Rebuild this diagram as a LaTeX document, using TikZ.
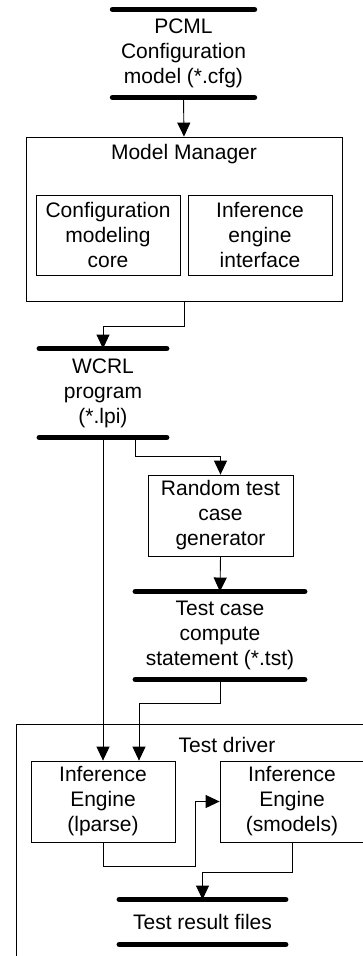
\documentclass[tikz,border=0pt]{standalone}
\usepackage{fontspec}
\setmainfont{Liberation Sans}
\usetikzlibrary{arrows.meta,positioning}

\begin{document}
\begin{tikzpicture}[x=1pt,y=-1pt,
    font=\fontsize{21}{25}\selectfont,
    every node/.style={align=center},
    box/.style={draw,line width=0.8pt,inner sep=0pt},
    store/.style args={#1/#2}{inner sep=0pt,minimum width=#1pt,minimum height=#2pt},
    bar/.style={line width=5.5pt,line cap=round},
    >={Triangle[width=13pt,length=14pt]},
    every path/.style={line width=0.9pt}]
    \useasboundingbox (0,0) rectangle (363,956);

    \path 
    node[store=141/87] (pcml) at (183.5,53.5) {PCML\\Configuration\\model (*.cfg)}
    node[box,minimum width=316pt,minimum height=164pt] (mm) at (184,219) {}
    node[box,minimum width=144pt,minimum height=80pt] (core) at (108,235) {Configuration\\modeling\\core}
    node[box,minimum width=144pt,minimum height=80pt] (ie) at (260,235) {Inference\\engine\\interface}
    node[store=126.5/88] (wcrl) at (103,393) {WCRL\\program\\(*.lpi)}
    node[box,minimum width=145pt,minimum height=81pt] (gen) at (220.5,515.5) {Random test\\case\\generator}
    node[store=168.5/87] (tst) at (220,635.5) {Test case\\compute\\statement (*.tst)};
    \node[below=4pt of mm.north] (mmt) {Model Manager};

    % test driver
    \node[box,anchor=north west,minimum width=380pt,minimum height=280pt] (drv) at (16,724) {};
    \node[anchor=base] (drvt) at (227,752) {Test driver};
    \path 
    node[box,minimum width=144pt,minimum height=81pt] (lp) at (103,801.5) {Inference\\Engine\\(lparse)}
    node[box,minimum width=144pt,minimum height=81pt] (sm) at (292,801.5) {Inference\\Engine\\(smodels)}
    node[store=165.5/44] (res) at (202.5,922) {Test result files};

    % file bars
    \foreach \n in {pcml,wcrl,tst,res}
        \draw[bar] (\n.north west) -- (\n.north east) (\n.south west) -- (\n.south east);

    \path 
    (pcml.south) edge[->] (mm.north)
    (wcrl.south) edge[->] (lp.north)
    (gen.south) edge[->] (tst.north);

    \draw[->] (mm.south) -- ++(0,25) -| (wcrl.north);
    \draw[->] ([xshift=32pt]wcrl.south) -- ++(0,19) -| (gen.north);
    \draw[->] (tst.south) -- ++(0,24) -| ([xshift=36pt]lp.north);
    \draw[->] (lp.south) -- ++(0,24) -| ([xshift=-24pt]sm.west) -- (sm.west);
    \draw[->] (sm.south) -- ++(0,30) -| (res.north);
\end{tikzpicture}
\end{document}
